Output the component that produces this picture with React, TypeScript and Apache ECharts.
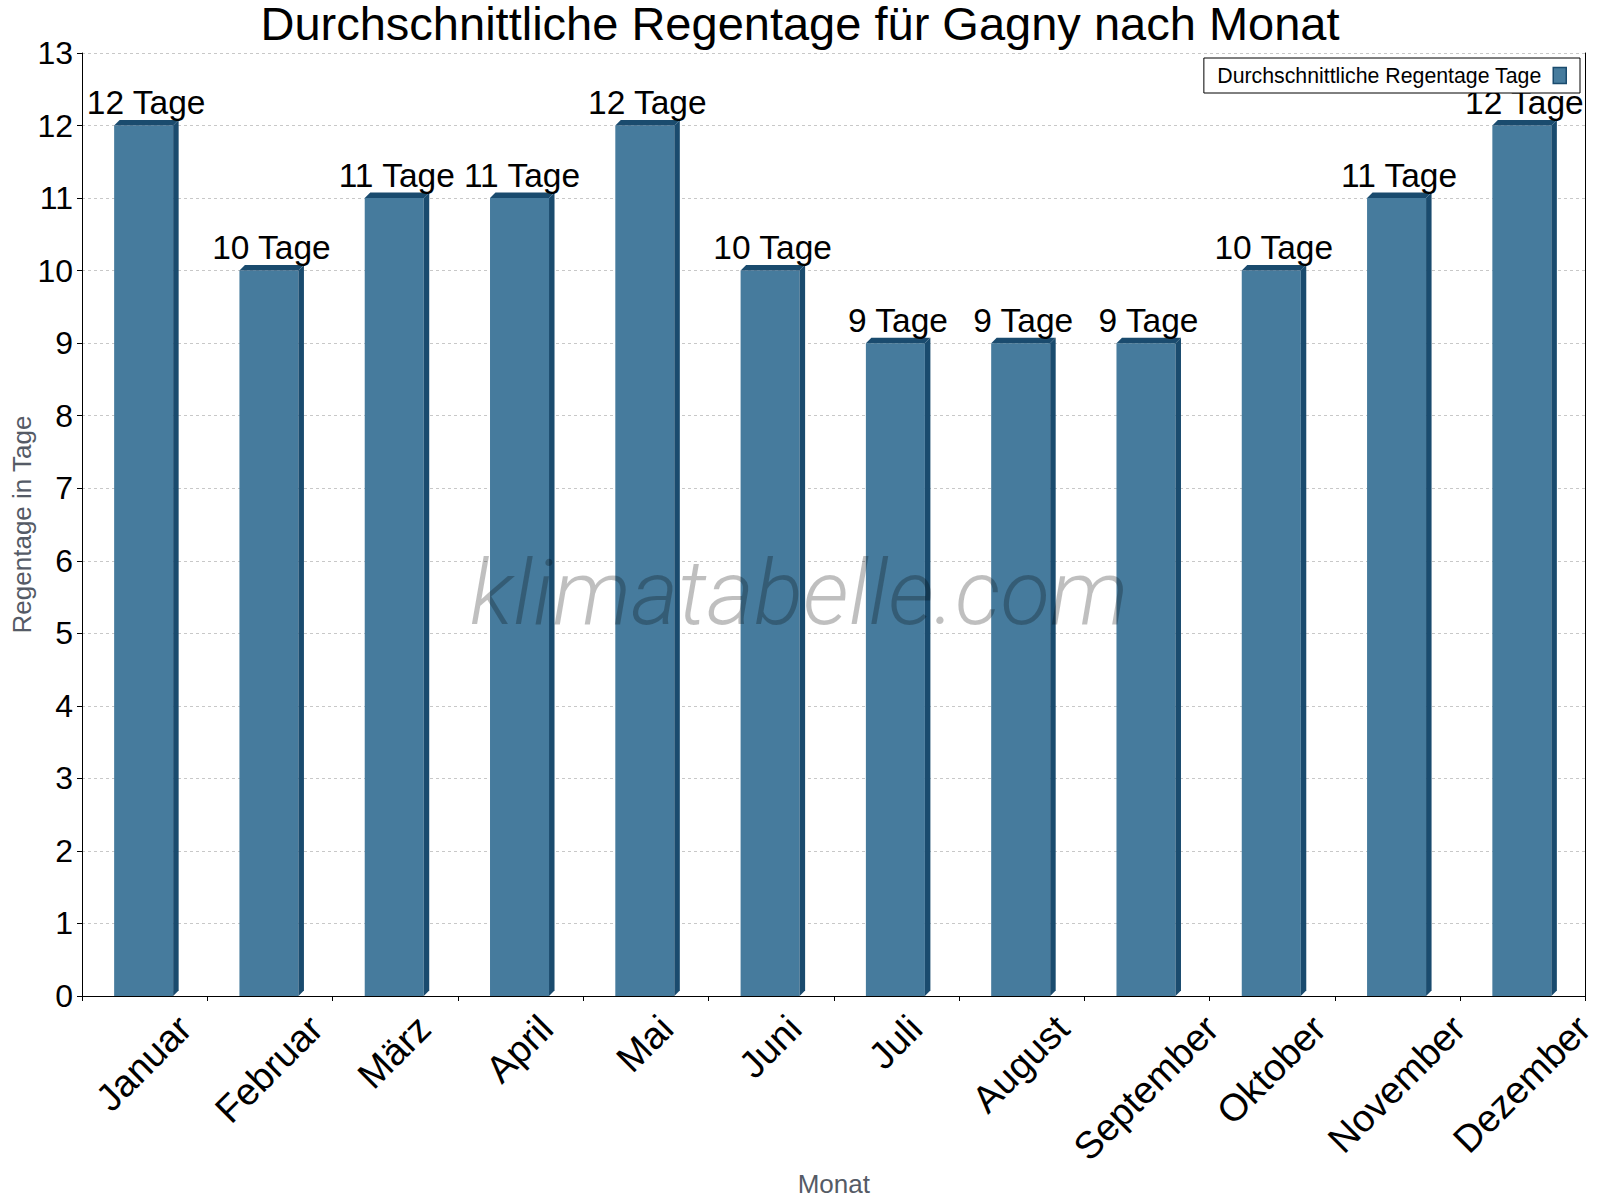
import React, { useEffect, useRef } from 'react';
import * as echarts from 'echarts';

const titleText = 'Durchschnittliche Regentage für Gagny nach Monat';
const seriesName = 'Durchschnittliche Regentage Tage';
const xAxisName = 'Monat';
const yAxisName = 'Regentage in Tage';
const unit = 'Tage';
const watermark = 'klimatabelle.com';

const months = ['Januar', 'Februar', 'März', 'April', 'Mai', 'Juni', 'Juli', 'August', 'September', 'Oktober', 'November', 'Dezember'];
const rainDays = [12, 10, 11, 11, 12, 10, 9, 9, 9, 10, 11, 12];
const yMin = 0;
const yMax = 13;
const yStep = 1;

const FONT = '"Liberation Sans", Arial, Helvetica, sans-serif';
const FRONT = '#467b9d';
const DARK = '#1a4b6e';
const XLABEL_SIZE = 38;

let measureCtx: CanvasRenderingContext2D | null = null;
function textWidth(text: string, size: number): number {
  if (!measureCtx) measureCtx = document.createElement('canvas').getContext('2d');
  if (!measureCtx) return text.length * size * 0.55;
  measureCtx.font = `${size}px ${FONT}`;
  return measureCtx.measureText(text).width;
}

export default function App() {
  const ref = useRef<HTMLDivElement>(null);
  useEffect(() => {
    document.body.style.margin = '0';
    const chart = echarts.init(ref.current as HTMLDivElement, null, { renderer: 'svg' });
    const option: any = {
      animation: false,
      backgroundColor: '#ffffff',
      title: {
        text: titleText,
        left: 'center',
        top: 0,
        padding: 0,
        textStyle: { fontSize: 47, fontWeight: 'normal', color: '#000', fontFamily: FONT },
      },
      legend: {
        data: [{ name: seriesName, icon: 'rect', itemStyle: { color: FRONT, borderColor: DARK, borderWidth: 1.5 } }],
        right: 20,
        top: 58,
        align: 'right',
        padding: [7, 13, 7, 13],
        borderColor: '#000',
        borderWidth: 1,
        borderRadius: 0,
        backgroundColor: '#fff',
        itemWidth: 13,
        itemHeight: 16,
        textStyle: { fontSize: 21.3, color: '#000', fontFamily: FONT, padding: [0, 7, 0, 0] },
        z: 20,
      },
      grid: { left: 82, right: 14.5, top: 53, bottom: 204, containLabel: false, outerBoundsMode: 'none' },
      xAxis: {
        type: 'category',
        data: months,
        boundaryGap: true,
        name: xAxisName,
        nameLocation: 'middle',
        nameGap: 175,
        nameMoveOverlap: false,
        nameTextStyle: { fontSize: 26, color: '#555b66', fontFamily: FONT },
        axisLine: { lineStyle: { color: '#000', width: 1 } },
        axisTick: { show: true, interval: 0, length: 5, lineStyle: { color: '#000' } },
        axisLabel: { show: false },
        splitLine: { show: false },
      },
      yAxis: [
        {
          type: 'value',
          min: yMin,
          max: yMax,
          interval: yStep,
          name: yAxisName,
          nameLocation: 'middle',
          nameGap: 47,
          nameMoveOverlap: false,
          nameTextStyle: { fontSize: 26, color: '#555b66', fontFamily: FONT },
          axisLine: { show: true, lineStyle: { color: '#000', width: 1 } },
          axisTick: { show: true, length: 5, lineStyle: { color: '#000' } },
          axisLabel: { fontSize: 32, color: '#000', fontFamily: FONT, margin: 9 },
          splitLine: { show: true, lineStyle: { color: '#c8c8c8', type: [3, 3], width: 1 } },
        },
        {
          type: 'value',
          min: yMin,
          max: yMax,
          interval: yStep,
          position: 'right',
          axisLine: { show: true, lineStyle: { color: '#000', width: 1 } },
          axisTick: { show: false },
          axisLabel: { show: false },
          splitLine: { show: false },
        },
      ],
      graphic: [
        {
          type: 'text',
          x: 799,
          y: 593,
          z: 100,
          silent: true,
          style: {
            text: watermark,
            fontFamily: 'Roboto, "Open Sans", sans-serif',
            fontWeight: 300,
            fontStyle: 'italic',
            fontSize: 91,
            fill: 'rgba(0,0,0,0.25)',
            align: 'center',
            verticalAlign: 'middle',
          },
        },
      ],
      series: [
        {
          type: 'custom',
          name: seriesName,
          data: rainDays.map((v, i) => [i, v]),
          encode: { x: 0, y: 1 },
          itemStyle: { color: FRONT },
          clip: false,
          renderItem: (params: any, api: any) => {
            const i = api.value(0);
            const v = api.value(1);
            const top = api.coord([i, v]);
            const base = api.coord([i, 0]);
            const cat = api.size([1, 0])[0];
            const bw = cat * 0.471;
            const d = 5.5;
            const cx = top[0];
            const x0 = cx - bw / 2 - 1;
            const x1 = x0 + bw;
            const yT = top[1];
            const yB = base[1];
            const label = months[i];
            const L = textWidth(label, XLABEL_SIZE);
            return {
              type: 'group',
              children: [
                { type: 'rect', shape: { x: x0, y: yT, width: bw, height: yB - yT }, style: { fill: FRONT } },
                { type: 'polygon', shape: { points: [[x1, yT], [x1 + d, yT - d], [x1 + d, yB - d], [x1, yB]] }, style: { fill: DARK } },
                { type: 'polygon', shape: { points: [[x0, yT], [x0 + d, yT - d], [x1 + d, yT - d], [x1, yT]] }, style: { fill: DARK } },
                {
                  type: 'text',
                  x: cx + 1.5,
                  y: yT - 23,
                  style: { text: `${v} ${unit}`, fill: '#000', fontSize: 33.5, fontFamily: FONT, align: 'center', verticalAlign: 'middle' },
                },
                {
                  type: 'text',
                  x: cx - 1,
                  y: yB + 26 + 0.354 * L,
                  rotation: Math.PI / 4,
                  style: { text: label, fill: '#000', fontSize: XLABEL_SIZE, fontFamily: FONT, align: 'center', verticalAlign: 'middle' },
                },
              ],
            };
          },
        },
      ],
    };
    chart.setOption(option);
    return () => chart.dispose();
  }, []);
  return <div ref={ref} style={{ width: 1600, height: 1200 }} />;
}
